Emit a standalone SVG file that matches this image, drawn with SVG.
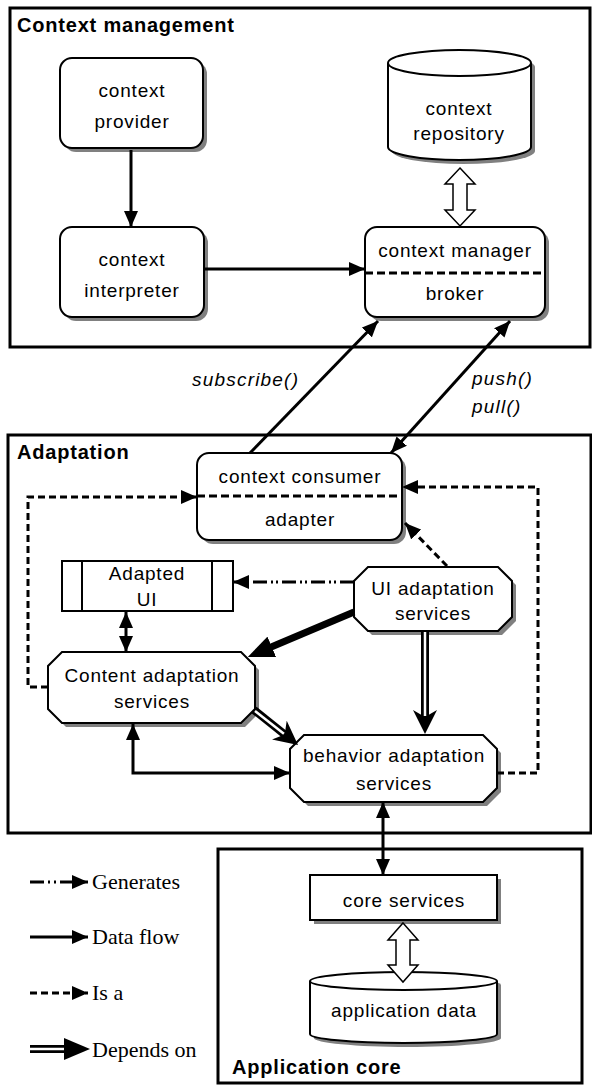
<svg xmlns="http://www.w3.org/2000/svg" width="592" height="1085" viewBox="0 0 592 1085">
<style>
  .frame{fill:none;stroke:#000;stroke-width:3}
  .box{fill:#fff;stroke:#000;stroke-width:2}
  .sh{fill:#808080}
  .t{font-family:"Liberation Sans",Arial,sans-serif;font-size:19px;letter-spacing:0.8px;text-anchor:middle;fill:#000}
  .ttl{font-family:"Liberation Sans",Arial,sans-serif;font-size:20px;font-weight:bold;letter-spacing:0.8px;fill:#000}
  .it{font-family:"Liberation Sans",Arial,sans-serif;font-size:19px;font-style:italic;letter-spacing:1.2px;fill:#000}
  .lg{font-family:"Liberation Serif","Times New Roman",serif;font-size:22px;fill:#000}
  .flow{fill:none;stroke:#000;stroke-width:3}
  .thick{fill:none;stroke:#000;stroke-width:7}
  .isa{fill:none;stroke:#000;stroke-width:3;stroke-dasharray:7 4}
  .gen{fill:none;stroke:#000;stroke-width:3;stroke-dasharray:14 4 2 3 2 4}
  .sep{fill:none;stroke:#000;stroke-width:3;stroke-dasharray:8 4}
  .dep{fill:none;stroke:#000;stroke-width:8}
  .depin{fill:none;stroke:#fff;stroke-width:2.5}
  .hollow{fill:#fff;stroke:#000;stroke-width:1.5}
</style>
<defs>
  <marker id="ah" viewBox="0 0 16 14" refX="16" refY="7" markerWidth="16" markerHeight="14" markerUnits="userSpaceOnUse" orient="auto-start-reverse">
    <path d="M0,0 L16,7 L0,14 Z"/>
  </marker>
  <marker id="ahBig" viewBox="0 0 26 22" refX="16" refY="11" markerWidth="26" markerHeight="22" markerUnits="userSpaceOnUse" orient="auto">
    <path d="M0,0 L26,11 L0,22 Z"/>
  </marker>
  <marker id="dart" viewBox="0 0 24 24" refX="14" refY="12" markerWidth="24" markerHeight="24" markerUnits="userSpaceOnUse" orient="auto">
    <path d="M0,0 L24,12 L0,24 L7,12 Z"/>
  </marker>
</defs>

<!-- layer frames -->
<g id="frame-context-management">
  <rect class="frame" x="10" y="8" width="580" height="339"/>
  <text class="ttl" x="17" y="32">Context management</text>
</g>
<g id="frame-adaptation">
  <rect class="frame" x="8" y="435" width="583" height="398"/>
  <text class="ttl" x="17" y="459">Adaptation</text>
</g>
<g id="frame-application-core">
  <rect class="frame" x="218" y="849" width="364" height="234"/>
  <text class="ttl" x="232" y="1074">Application core</text>
</g>

<!-- nodes -->
<g id="context-provider">
  <rect class="sh" x="64" y="62" width="143" height="90" rx="12"/>
  <rect class="box" x="60" y="58" width="143" height="90" rx="12"/>
  <text class="t" x="132" y="97">context</text>
  <text class="t" x="132" y="128">provider</text>
</g>
<g id="context-interpreter">
  <rect class="sh" x="64" y="231" width="144" height="90" rx="12"/>
  <rect class="box" x="60" y="227" width="144" height="90" rx="12"/>
  <text class="t" x="132" y="266">context</text>
  <text class="t" x="132" y="297">interpreter</text>
</g>
<g id="context-repository">
  <path class="sh" transform="translate(4,4)" d="M388,63 V147 A71.5,13 0 0 0 531,147 V63 A71.5,13 0 0 0 388,63 Z"/>
  <path class="box" d="M388,63 V147 A71.5,13 0 0 0 531,147 V63 A71.5,13 0 0 0 388,63 Z"/>
  <path class="box" d="M388,63 A71.5,13 0 0 0 531,63"/>
  <text class="t" x="459" y="115">context</text>
  <text class="t" x="459" y="140">repository</text>
</g>
<g id="context-manager">
  <rect class="sh" x="369" y="231" width="180" height="90" rx="12"/>
  <rect class="box" x="365" y="227" width="180" height="90" rx="12"/>
  <path class="sep" d="M365,273 H545"/>
  <text class="t" x="455" y="257">context manager</text>
  <text class="t" x="455" y="300">broker</text>
</g>
<g id="context-consumer">
  <rect class="sh" x="201" y="457" width="205" height="87" rx="12"/>
  <rect class="box" x="197" y="453" width="205" height="87" rx="12"/>
  <path class="sep" d="M197,496 H402"/>
  <text class="t" x="300" y="483">context consumer</text>
  <text class="t" x="300" y="526">adapter</text>
</g>
<g id="adapted-ui">
  <rect class="box" x="62" y="561" width="171" height="50"/>
  <path class="box" d="M82,561 V611 M212,561 V611"/>
  <text class="t" x="147" y="580">Adapted</text>
  <text class="t" x="147" y="606">UI</text>
</g>
<g id="ui-adaptation-services">
  <path class="sh" transform="translate(4,4)" d="M368,567 H498 L512,581 V617 L498,631 H368 L354,617 V581 Z"/>
  <path class="box" d="M368,567 H498 L512,581 V617 L498,631 H368 L354,617 V581 Z"/>
  <text class="t" x="433" y="595">UI adaptation</text>
  <text class="t" x="433" y="620">services</text>
</g>
<g id="content-adaptation-services">
  <path class="sh" transform="translate(4,4)" d="M62,652 H241 L255,666 V709 L241,723 H62 L48,709 V666 Z"/>
  <path class="box" d="M62,652 H241 L255,666 V709 L241,723 H62 L48,709 V666 Z"/>
  <text class="t" x="152" y="682">Content adaptation</text>
  <text class="t" x="152" y="708">services</text>
</g>
<g id="behavior-adaptation-services">
  <path class="sh" transform="translate(4,4)" d="M304,735 H483 L497,749 V788 L483,802 H304 L290,788 V749 Z"/>
  <path class="box" d="M304,735 H483 L497,749 V788 L483,802 H304 L290,788 V749 Z"/>
  <text class="t" x="394" y="762">behavior adaptation</text>
  <text class="t" x="394" y="790">services</text>
</g>
<g id="core-services">
  <rect class="sh" x="314" y="879" width="187" height="45"/>
  <rect class="box" x="310" y="875" width="187" height="45"/>
  <text class="t" x="404" y="907">core services</text>
</g>
<g id="application-data">
  <path class="sh" transform="translate(4,4)" d="M310,981 V1034 A93.5,9 0 0 0 497,1034 V981 A93.5,9 0 0 0 310,981 Z"/>
  <path class="box" d="M310,981 V1034 A93.5,9 0 0 0 497,1034 V981 A93.5,9 0 0 0 310,981 Z"/>
  <path class="box" d="M310,981 A93.5,9 0 0 0 497,981"/>
  <text class="t" x="404" y="1017">application data</text>
</g>

<!-- connectors -->
<g id="connectors">
  <path class="flow" d="M131,150 V227" marker-end="url(#ah)"/>
  <path class="flow" d="M205,269 H365" marker-end="url(#ah)"/>
  <polygon class="hollow" points="460,168 475,184 467,184 467,210 475,210 460,226 445,210 453,210 453,184 445,184"/>

  <path class="flow" d="M250,453 L378,321" marker-end="url(#ah)"/>
  <path class="flow" d="M510,321 L391,453" marker-start="url(#ah)" marker-end="url(#ah)"/>
  <text class="it" x="192" y="386">subscribe()</text>
  <text class="it" x="472" y="385">push()</text>
  <text class="it" x="472" y="413">pull()</text>

  <path class="isa" d="M48,687 H28 V497 H197" marker-end="url(#ah)"/>
  <path class="isa" d="M497,773 H538 V487 H402" marker-end="url(#ah)"/>
  <path class="isa" d="M447,566 L405,523" marker-end="url(#ah)"/>

  <path class="gen" d="M354,582 H233" marker-end="url(#ah)"/>
  <path class="thick" d="M354,612 L257,653" marker-end="url(#ahBig)"/>
  <path class="flow" d="M126,612 V652" marker-start="url(#ah)" marker-end="url(#ah)"/>
  <path class="flow" d="M133,724 V773 H290" marker-start="url(#ah)" marker-end="url(#ah)"/>

  <path class="dep" d="M425,632 V724" marker-end="url(#dart)"/>
  <path class="depin" d="M425,632 V716"/>
  <path class="dep" d="M254,710 L290.2,738.8" marker-end="url(#dart)"/>
  <path class="depin" d="M255,711 L283.9,733.8"/>

  <path class="flow" d="M383,802 V875" marker-start="url(#ah)" marker-end="url(#ah)"/>
  <polygon class="hollow" points="403,923 418,940 410,940 410,965 418,965 403,982 388,965 396,965 396,940 388,940"/>
</g>

<!-- legend -->
<g id="legend">
  <path class="flow" d="M30,882 H88" style="stroke-dasharray:14 4 2 4 2 4 40" marker-end="url(#ah)"/>
  <text class="lg" x="92" y="889">Generates</text>
  <path class="flow" d="M30,937 H88" marker-end="url(#ah)"/>
  <text class="lg" x="92" y="944">Data flow</text>
  <path class="isa" d="M30,993 H88" marker-end="url(#ah)"/>
  <text class="lg" x="92" y="1000">Is a</text>
  <path class="dep" d="M30,1049 H66"/>
  <path class="depin" d="M30,1049 H66"/>
  <polygon points="64,1038 90,1049 64,1060"/>
  <text class="lg" x="92" y="1057">Depends on</text>
</g>
</svg>
